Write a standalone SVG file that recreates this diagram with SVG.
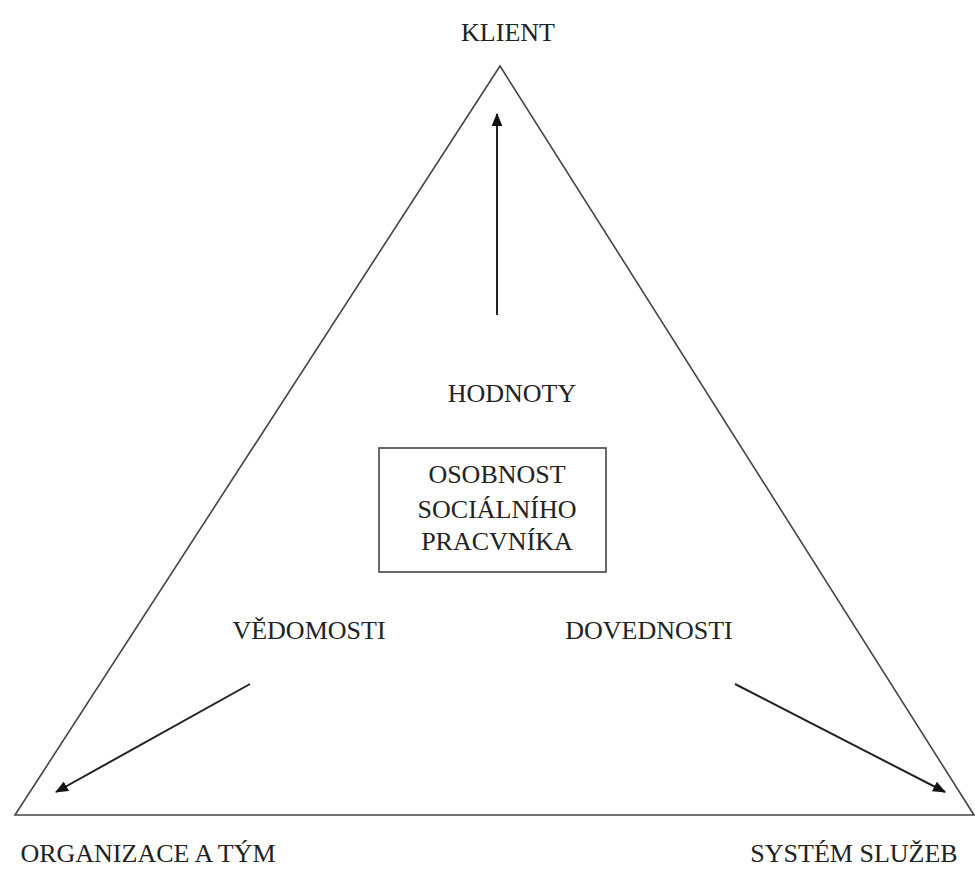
<svg xmlns="http://www.w3.org/2000/svg" width="975" height="870" viewBox="0 0 975 870">
<style>
.t{font-size:26px;fill:#222;text-anchor:middle}
.ln{stroke:#444;stroke-width:1.6;fill:none}
.ar{stroke:#222;stroke-width:2;fill:none;marker-end:url(#ah)}
</style>
<defs>
<marker id="ah" viewBox="0 0 12 10" refX="11" refY="5" markerWidth="13" markerHeight="11" markerUnits="userSpaceOnUse" orient="auto">
<path d="M0,0 L12,5 L0,10 z" fill="#111"/>
</marker>
</defs>
<rect width="975" height="870" fill="#fff"/>
<g id="triangle"><path class="ln" d="M500,66 L15,815 L974,815 Z"/></g>
<g font-family="Liberation Serif, DejaVu Serif, serif" class="t">
<g id="klient"><text x="508" y="41">KLIENT</text></g>
<g id="hodnoty"><text x="512" y="402">HODNOTY</text></g>
<g id="osobnost"><rect class="ln" x="379" y="448" width="227" height="124"/>
<text x="497" y="483">OSOBNOST</text><text x="497" y="518">SOCIÁLNÍHO</text><text x="497" y="550">PRACVNÍKA</text></g>
<g id="vedomosti"><text x="309" y="639">VĚDOMOSTI</text></g>
<g id="dovednosti"><text x="649" y="639">DOVEDNOSTI</text></g>
<g id="organizace"><text x="148" y="862">ORGANIZACE A TÝM</text></g>
<g id="system"><text x="854" y="862">SYSTÉM SLUŽEB</text></g>
</g>
<g id="connectors">
<line class="ar" x1="497" y1="315" x2="497" y2="114"/>
<line class="ar" x1="250" y1="684" x2="56" y2="792"/>
<line class="ar" x1="735" y1="684" x2="945" y2="792"/>
</g>
</svg>
